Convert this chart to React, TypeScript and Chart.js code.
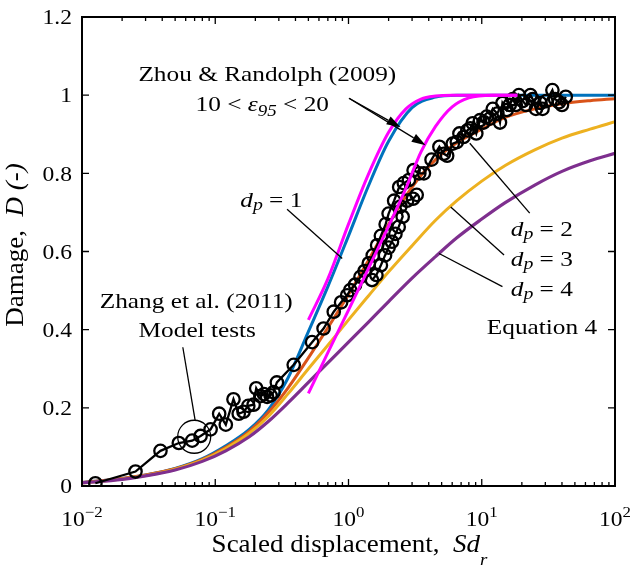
import React, { useEffect, useRef } from "react";
import { Chart, registerables } from "chart.js";

Chart.register(...registerables);

// ---------------- data ----------------
// Equation 4 curves, shared x grid
const eqX = [0.01, 0.02, 0.03, 0.05, 0.08, 0.12, 0.18, 0.25, 0.35, 0.5, 0.7, 1, 1.4, 2, 3, 4.5, 6.5, 10, 15, 25, 40, 65, 100];
const eqDp1 = [0.009, 0.019, 0.028, 0.045, 0.07, 0.103, 0.145, 0.195, 0.275, 0.395, 0.51, 0.64, 0.765, 0.882, 0.968, 0.995, 1, 1, 1, 1, 1, 1, 1];
const eqDp2 = [0.009, 0.019, 0.028, 0.044, 0.068, 0.099, 0.14, 0.188, 0.25, 0.328, 0.405, 0.49, 0.575, 0.67, 0.765, 0.835, 0.878, 0.913, 0.943, 0.965, 0.978, 0.986, 0.991];
const eqDp3 = [0.008, 0.018, 0.027, 0.043, 0.066, 0.096, 0.135, 0.178, 0.235, 0.3, 0.36, 0.425, 0.485, 0.548, 0.615, 0.68, 0.73, 0.78, 0.82, 0.86, 0.89, 0.913, 0.932];
const eqDp4 = [0.008, 0.017, 0.026, 0.041, 0.063, 0.09, 0.126, 0.165, 0.212, 0.265, 0.315, 0.368, 0.418, 0.472, 0.532, 0.587, 0.635, 0.683, 0.725, 0.77, 0.805, 0.832, 0.851];

// Zhou & Randolph (2009), 10 < eps95 < 20
const zhouX = [0.5, 0.7, 1, 1.4, 2, 2.7, 3.5, 4.5, 6, 8, 12, 18.5];
const zhouUpper = [0.425, 0.53, 0.67, 0.795, 0.905, 0.965, 0.99, 0.998, 1, 1, 1, 1];
const zhouLower = [0.237, 0.341, 0.45, 0.554, 0.665, 0.762, 0.855, 0.92, 0.97, 0.993, 1, 1];

// Zhang et al. (2011) model tests  [Sd_r, D]
const modelTests: [number, number][] = [
  [0.0126, 0.007], [0.0252, 0.037], [0.0388, 0.09], [0.0533, 0.11], [0.0671, 0.116],
  [0.0776, 0.128], [0.0923, 0.145], [0.107, 0.185], [0.12, 0.157], [0.137, 0.222],
  [0.15, 0.185], [0.163, 0.19], [0.177, 0.205], [0.194, 0.208], [0.203, 0.25],
  [0.218, 0.23], [0.232, 0.235], [0.245, 0.228], [0.26, 0.232], [0.274, 0.24],
  [0.29, 0.265], [0.388, 0.31], [0.533, 0.368], [0.65, 0.403], [0.775, 0.446],
  [0.88, 0.47], [0.977, 0.488], [1.03, 0.501], [1.12, 0.515], [1.23, 0.535],
  [1.32, 0.55], [1.42, 0.57], [1.52, 0.59], [1.64, 0.616], [1.75, 0.64],
  [1.9, 0.67], [2.0, 0.697], [2.2, 0.73], [2.4, 0.765], [2.6, 0.775],
  [2.84, 0.783], [3.08, 0.808], [3.4, 0.8], [3.68, 0.8], [4.2, 0.835],
  [4.81, 0.868], [5.2, 0.85], [5.5, 0.845], [6.06, 0.876], [6.5, 0.88],
  [6.8, 0.902], [7.3, 0.893], [7.8, 0.91], [8.2, 0.915], [8.55, 0.928],
  [9.1, 0.902], [9.7, 0.936], [10.3, 0.93], [10.9, 0.945], [11.5, 0.94],
  [12.1, 0.965], [13.1, 0.953], [13.7, 0.93], [14.3, 0.98], [15.4, 0.962],
  [16.2, 0.975], [17.1, 0.99], [18, 0.975], [19, 1.0], [20.3, 0.985],
  [21.5, 0.975], [23.2, 1.0], [24.1, 0.99], [25.5, 0.965], [27.6, 0.98],
  [28.6, 0.965], [30.5, 0.985], [33.9, 1.013], [35.5, 0.99], [38, 0.982],
  [40, 0.975], [42.7, 0.996],
];
const modelTestsB: [number, number][] = [
  [1.5, 0.527], [1.62, 0.54], [1.75, 0.565], [1.88, 0.59], [2.0, 0.61],
  [2.12, 0.625], [2.25, 0.645], [2.38, 0.663], [2.55, 0.689], [2.45, 0.715],
  [2.75, 0.73], [3.05, 0.735], [3.25, 0.745],
];

// ticks
const xTicks = [0.01, 0.1, 1, 10, 100];
const xTickExp = ["\u22122", "\u22121", "0", "1", "2"];
const yTicks = [0, 0.2, 0.4, 0.6, 0.8, 1, 1.2];
const yTickLabels = ["0", "0.2", "0.4", "0.6", "0.8", "1", "1.2"];

// ---------------- styling ----------------
const SERIF = '"Liberation Serif", "Times New Roman", Times, serif';
const C_BLUE = "#0072BD";
const C_ORANGE = "#D95319";
const C_YELLOW = "#EDB120";
const C_PURPLE = "#7E2F8E";
const C_MAGENTA = "#FF00FF";

type Run = { t: string; it?: boolean; sc?: number; dy?: number };

function fnt(size: number, italic?: boolean) {
  return `${italic ? "italic " : ""}${size}px ${SERIF}`;
}

function drawRuns(ctx: CanvasRenderingContext2D, runs: Run[], x: number, y: number, size: number, stretch: number, align: "left" | "center" | "right") {
  const widths = runs.map((r) => {
    ctx.font = fnt(size * (r.sc ?? 1), r.it);
    return ctx.measureText(r.t).width * stretch;
  });
  const total = widths.reduce((a, b) => a + b, 0);
  let cx = align === "center" ? x - total / 2 : align === "right" ? x - total : x;
  ctx.textAlign = "left";
  ctx.textBaseline = "alphabetic";
  runs.forEach((r, i) => {
    ctx.font = fnt(size * (r.sc ?? 1), r.it);
    ctx.save();
    ctx.translate(cx, y + (r.dy ?? 0));
    ctx.scale(stretch, 1);
    ctx.fillText(r.t, 0, 0);
    ctx.restore();
    cx += widths[i];
  });
}

const dpRuns = (n: string): Run[] => [
  { t: "d", it: true },
  { t: "p", it: true, sc: 0.78, dy: 3 },
  { t: " = " + n },
];

// annotation anchors in data coordinates (x: Sd_r, y: D at baseline)
const labels: { runs: Run[]; x: number; y: number; align: "left" | "center" }[] = [
  { runs: [{ t: "Zhou & Randolph (2009)" }], x: 0.246, y: 1.036, align: "center" },
  { runs: [{ t: "10 < " }, { t: "\u03B5", it: true }, { t: "95", it: true, sc: 0.75, dy: 5 }, { t: " < 20" }], x: 0.2254, y: 0.96, align: "center" },
  { runs: dpRuns("1"), x: 0.154, y: 0.714, align: "left" },
  { runs: dpRuns("2"), x: 16.5, y: 0.639, align: "left" },
  { runs: dpRuns("3"), x: 16.5, y: 0.563, align: "left" },
  { runs: dpRuns("4"), x: 16.5, y: 0.486, align: "left" },
  { runs: [{ t: "Equation 4" }], x: 28.3, y: 0.388, align: "center" },
  { runs: [{ t: "Zhang et al. (2011)" }], x: 0.072, y: 0.455, align: "center" },
  { runs: [{ t: "Model tests" }], x: 0.0733, y: 0.38, align: "center" },
];

const pointers: [number, number, number, number][] = [
  [0.346, 0.708, 0.897, 0.582],
  [22.9, 0.698, 8.13, 0.877],
  [14.7, 0.591, 5.85, 0.714],
  [14.3, 0.51, 4.78, 0.595],
  [0.0571, 0.355, 0.0707, 0.167],
];
const arrows: [number, number, number, number][] = [
  [1.009, 0.992, 2.46, 0.918],
  [1.009, 0.992, 3.79, 0.872],
];
const zhangCircle = { x: 0.0695, y: 0.126, r: 16.5 };

const decorPlugin = {
  id: "decor",
  afterDatasetsDraw(chart: any) {
    const ctx: CanvasRenderingContext2D = chart.ctx;
    const a = chart.chartArea;
    const xs = chart.scales.x;
    const ys = chart.scales.y;
    const X = (v: number) => xs.getPixelForValue(v);
    const Y = (v: number) => ys.getPixelForValue(v);
    ctx.save();
    ctx.strokeStyle = "#000";
    ctx.fillStyle = "#000";

    // frame
    ctx.lineWidth = 2;
    ctx.strokeRect(a.left, a.top, a.right - a.left, a.bottom - a.top);

    // ticks
    ctx.lineWidth = 1.3;
    ctx.beginPath();
    for (let e = -2; e < 2; e++) {
      for (let k = 1; k <= 9; k++) {
        const px = X(k * Math.pow(10, e));
        const len = k === 1 ? 7 : 4;
        ctx.moveTo(px, a.bottom);
        ctx.lineTo(px, a.bottom - len);
        ctx.moveTo(px, a.top);
        ctx.lineTo(px, a.top + len);
      }
    }
    yTicks.forEach((v) => {
      const py = Y(v);
      ctx.moveTo(a.left, py);
      ctx.lineTo(a.left + 7, py);
      ctx.moveTo(a.right, py);
      ctx.lineTo(a.right - 7, py);
    });
    ctx.stroke();

    // y tick labels
    yTicks.forEach((v, i) => {
      drawRuns(ctx, [{ t: yTickLabels[i] }], a.left - 10, Y(v) + 7.2, 21, 1.12, "right");
    });
    // x tick labels: 10^n
    xTicks.forEach((v, i) => {
      const px = X(v);
      ctx.font = fnt(21);
      const w1 = ctx.measureText("10").width * 1.12;
      ctx.font = fnt(15);
      const w2 = ctx.measureText(xTickExp[i]).width * 1.12;
      const left = px - (w1 + w2) / 2;
      drawRuns(ctx, [{ t: "10" }], left, a.bottom + 40, 21, 1.12, "left");
      drawRuns(ctx, [{ t: xTickExp[i] }], left + w1, a.bottom + 31, 15, 1.12, "left");
    });

    // axis titles
    drawRuns(ctx, [{ t: "Scaled displacement,  " }, { t: "Sd", it: true }, { t: "r", it: true, sc: 0.7, dy: 13 }], (a.left + a.right) / 2 + 1, a.bottom + 66, 25, 1.08, "center");
    ctx.save();
    ctx.translate(23, 245);
    ctx.rotate(-Math.PI / 2);
    drawRuns(ctx, [{ t: "Damage,  " }, { t: "D (-)", it: true }], 0, 0, 25, 1.08, "center");
    ctx.restore();

    // annotations
    labels.forEach((l) => drawRuns(ctx, l.runs, X(l.x), Y(l.y), 22, 1.15, l.align));

    ctx.lineWidth = 1.3;
    pointers.forEach(([x1, y1, x2, y2]) => {
      ctx.beginPath();
      ctx.moveTo(X(x1), Y(y1));
      ctx.lineTo(X(x2), Y(y2));
      ctx.stroke();
    });
    arrows.forEach(([x1, y1, x2, y2]) => {
      const sx = X(x1), sy = Y(y1), tx = X(x2), ty = Y(y2);
      const ang = Math.atan2(ty - sy, tx - sx);
      const L = 14, W = 4.5;
      const bx = tx - L * Math.cos(ang), by = ty - L * Math.sin(ang);
      ctx.beginPath();
      ctx.moveTo(sx, sy);
      ctx.lineTo(bx, by);
      ctx.stroke();
      ctx.beginPath();
      ctx.moveTo(tx, ty);
      ctx.lineTo(bx + W * Math.sin(ang), by - W * Math.cos(ang));
      ctx.lineTo(bx - W * Math.sin(ang), by + W * Math.cos(ang));
      ctx.closePath();
      ctx.fill();
    });
    ctx.beginPath();
    ctx.arc(X(zhangCircle.x), Y(zhangCircle.y), zhangCircle.r, 0, Math.PI * 2);
    ctx.stroke();

    ctx.restore();
  },
};

function curve(xs: number[], ys: number[], color: string, width: number) {
  return {
    data: xs.map((x, i) => ({ x, y: ys[i] })),
    borderColor: color,
    borderWidth: width,
    pointRadius: 0,
    cubicInterpolationMode: "monotone" as const,
    fill: false,
  };
}

function tests(pts: [number, number][]) {
  return {
    data: pts.map(([x, y]) => ({ x, y })),
    borderColor: "#000",
    borderWidth: 2.3,
    tension: 0,
    pointRadius: 6.2,
    pointBorderWidth: 2.3,
    pointBorderColor: "#000",
    pointBackgroundColor: "rgba(0,0,0,0)",
    fill: false,
  };
}

export default function App() {
  const ref = useRef<HTMLCanvasElement>(null);
  useEffect(() => {
    if (!ref.current) return;
    const chart = new Chart(ref.current, {
      type: "line",
      data: {
        datasets: [
          curve(zhouX, zhouUpper, C_MAGENTA, 3),
          curve(zhouX, zhouLower, C_MAGENTA, 3),
          tests(modelTests),
          tests(modelTestsB),
          curve(eqX, eqDp4, C_PURPLE, 3.2),
          curve(eqX, eqDp3, C_YELLOW, 3),
          curve(eqX, eqDp2, C_ORANGE, 3),
          curve(eqX, eqDp1, C_BLUE, 3),
        ] as any,
      },
      options: {
        animation: false,
        responsive: false,
        devicePixelRatio: 1,
        layout: { padding: { left: 82, right: 17, top: 17, bottom: 82 } },
        scales: {
          x: { type: "logarithmic", min: 0.01, max: 100, display: false },
          y: { type: "linear", min: 0, max: 1.2, display: false },
        },
        plugins: { legend: { display: false }, tooltip: { enabled: false } },
      },
      plugins: [decorPlugin],
    });
    return () => chart.destroy();
  }, []);
  return (
    <div style={{ position: "fixed", left: 0, top: 0, width: 632, height: 568, background: "#fff" }}>
      <canvas ref={ref} width={632} height={568} style={{ width: 632, height: 568, display: "block" }} />
    </div>
  );
}
